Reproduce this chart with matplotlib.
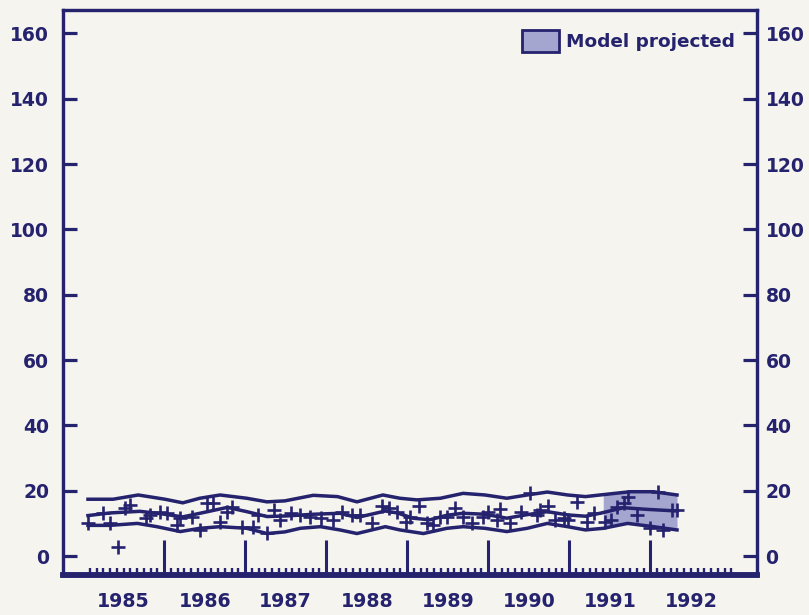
import matplotlib.pyplot as plt
from matplotlib.patches import Patch

plt.rcParams['font.family'] = ['DejaVu Sans']
plt.rcParams['font.weight'] = 'bold'

# fitted model line and its band (decimal years, values)
mid_years = [1985.06, 1985.33, 1985.70, 1985.95, 1986.23, 1986.48, 1986.78, 1987.02,
             1987.27, 1987.52, 1987.84, 1988.17, 1988.38, 1988.73, 1988.88, 1989.07,
             1989.28, 1989.49, 1989.69, 1989.96, 1990.23, 1990.46, 1990.73, 1990.98,
             1991.20, 1991.38, 1991.67, 1991.96, 1992.33]
mid_vals = [12.4, 13.2, 13.7, 13.0, 12.0, 13.3, 14.9, 13.6,
            12.1, 12.3, 12.8, 13.1, 11.8, 13.8, 13.2, 11.6,
            11.1, 12.5, 13.1, 12.8, 11.6, 12.6, 13.6, 12.6,
            12.2, 13.1, 14.8, 14.3, 13.8]

up_years = [1985.06, 1985.37, 1985.68, 1986.01, 1986.23, 1986.44, 1986.69, 1987.02,
            1987.27, 1987.49, 1987.84, 1988.14, 1988.38, 1988.70, 1988.91, 1989.12,
            1989.41, 1989.69, 1989.96, 1990.23, 1990.48, 1990.73, 1990.98, 1991.20,
            1991.38, 1991.75, 1992.04, 1992.33]
up_vals = [17.4, 17.4, 18.7, 17.4, 16.3, 17.7, 18.7, 17.7,
           16.6, 16.9, 18.6, 18.2, 16.6, 18.7, 17.7, 17.2,
           17.7, 19.2, 18.7, 17.7, 18.7, 19.6, 18.7, 18.2,
           18.7, 19.7, 19.7, 18.7]

low_years = [1985.06, 1985.33, 1985.67, 1985.91, 1986.20, 1986.44, 1986.69, 1987.02,
             1987.27, 1987.49, 1987.68, 1987.93, 1988.17, 1988.38, 1988.73, 1988.91,
             1989.20, 1989.49, 1989.69, 1989.96, 1990.23, 1990.48, 1990.73, 1990.98,
             1991.20, 1991.42, 1991.72, 1992.04, 1992.33]
low_vals = [9.4, 9.4, 10.0, 9.0, 7.5, 8.5, 9.0, 8.5,
            6.9, 7.4, 8.5, 9.0, 8.0, 6.9, 9.0, 8.0,
            6.9, 8.5, 9.0, 8.5, 7.5, 8.5, 10.0, 9.0,
            8.0, 8.5, 10.0, 9.0, 8.0]

# projected part of the band
proj_years = [1991.42, 1991.73, 1992.04, 1992.33]
proj_up = [18.8, 19.7, 19.7, 18.7]
proj_low = [8.5, 10.0, 9.0, 8.0]

# observations
obs_years = [1985.06, 1985.25, 1985.33, 1985.43, 1985.52, 1985.58, 1985.77, 1985.83,
             1985.95, 1986.04, 1986.16, 1986.20, 1986.35, 1986.44, 1986.53, 1986.60,
             1986.69, 1986.78, 1986.84, 1986.96, 1987.10, 1987.16, 1987.27, 1987.35,
             1987.43, 1987.56, 1987.68, 1987.80, 1987.93, 1988.09, 1988.20, 1988.32,
             1988.42, 1988.57, 1988.69, 1988.77, 1988.88, 1988.98, 1989.04, 1989.14,
             1989.25, 1989.32, 1989.41, 1989.49, 1989.59, 1989.69, 1989.80, 1989.93,
             1990.00, 1990.11, 1990.15, 1990.27, 1990.40, 1990.52, 1990.60, 1990.64,
             1990.74, 1990.83, 1990.93, 1990.98, 1991.10, 1991.22, 1991.30, 1991.44,
             1991.51, 1991.59, 1991.67, 1991.73, 1991.84, 1992.00, 1992.09, 1992.16,
             1992.27, 1992.33]
obs_vals = [10.1, 13.2, 10.1, 2.8, 14.7, 15.6, 11.6, 12.6,
            13.5, 13.2, 9.5, 11.6, 12.0, 8.0, 16.2, 16.2,
            10.4, 13.5, 15.0, 8.9, 8.9, 12.6, 7.0, 14.1,
            11.0, 13.2, 12.6, 12.0, 11.6, 11.0, 13.5, 12.6,
            12.6, 10.1, 15.3, 14.7, 13.5, 10.4, 12.0, 15.3,
            10.1, 9.5, 12.0, 12.0, 14.7, 12.0, 10.1, 12.0,
            13.5, 11.0, 14.4, 10.1, 13.5, 19.3, 12.6, 14.1,
            15.3, 11.0, 11.6, 11.0, 16.5, 10.4, 13.2, 10.4,
            11.0, 15.0, 16.2, 18.1, 12.6, 8.6, 19.6, 8.0,
            14.1, 14.1]

year_labels = ['1985', '1986', '1987', '1988', '1989', '1990', '1991', '1992']
y_ticks = [0, 20, 40, 60, 80, 100, 120, 140, 160]

ink = '#25226e'
paper = '#f5f4ee'
shade = '#a4a6cf'

fig = plt.figure(figsize=(8.09, 6.15), dpi=100, facecolor=paper)
ax = fig.add_axes([0.078, 0.065, 0.858, 0.919], facecolor=paper)

ax.fill_between(proj_years, proj_low, proj_up, color=shade, lw=0, zorder=1)
ax.plot(up_years, up_vals, color=ink, lw=2.5, zorder=2)
ax.plot(mid_years, mid_vals, color=ink, lw=2.5, zorder=2)
ax.plot(low_years, low_vals, color=ink, lw=2.5, zorder=2)
ax.plot(obs_years, obs_vals, ls='none', marker='+', ms=10, mew=1.9, color=ink, zorder=3)

ax.set_xlim(1984.753, 1993.32)
ax.set_ylim(-5.8, 167.2)

# left y axis, ticks pointing in
ax.set_yticks(y_ticks)
ax.tick_params(axis='y', direction='in', length=10, width=2.3, colors=ink,
               labelsize=13.5, pad=10)

# right y axis (same scale), a bit closer to the spine
ax2 = ax.twinx()
ax2.set_ylim(ax.get_ylim())
ax2.set_yticks(y_ticks)
ax2.tick_params(axis='y', direction='in', length=10, width=2.3, colors=ink,
                labelsize=13.5, pad=6)

# x axis: long ticks at year starts, monthly minor ticks, labels mid-year
ax.set_xticks(range(1986, 1993))
ax.set_xticklabels([])
ax.set_xticks([1985 + k / 12 for k in range(1, 97)], minor=True)
ax.tick_params(axis='x', which='major', direction='in', length=25, width=2.2, colors=ink)
ax.tick_params(axis='x', which='minor', direction='in', length=5, width=1.7, colors=ink)
for i, lab in enumerate(year_labels):
    ax.text(1985.5 + i, -0.047, lab, transform=ax.get_xaxis_transform(),
            ha='center', va='center', fontsize=13.7, color=ink)

for a in (ax, ax2):
    for side in ['left', 'right', 'top']:
        a.spines[side].set_linewidth(2.3)
        a.spines[side].set_color(ink)
    a.spines['bottom'].set_linewidth(4)
    a.spines['bottom'].set_color(ink)

leg = ax.legend(handles=[Patch(facecolor=shade, edgecolor=ink, lw=2, label='Model projected')],
                loc='upper right', bbox_to_anchor=(0.968, 0.965), frameon=False,
                fontsize=13.3, handlelength=2.0, handleheight=1.5, handletextpad=0.4,
                borderpad=0, borderaxespad=0)
for t in leg.get_texts():
    t.set_color(ink)

plt.savefig('out.png', dpi=100, facecolor=paper)
